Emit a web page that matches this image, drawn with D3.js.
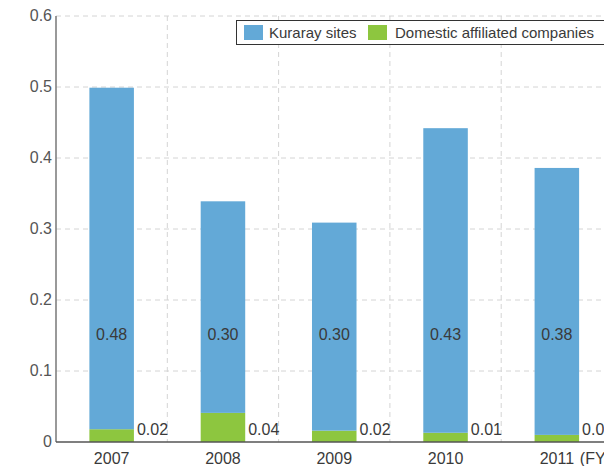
<!DOCTYPE html>
<html>
<head>
<meta charset="utf-8">
<script src="https://cdn.jsdelivr.net/npm/d3@7"></script>
<style>
  body { margin: 0; background: #fff; }
  svg { font-family: "Liberation Sans", Arial, sans-serif; }
</style>
</head>
<body>
<div id="chart"></div>
<script>
var years = ["2007", "2008", "2009", "2010", "2011"];
var kuraray = [0.481, 0.298, 0.293, 0.429, 0.376];
var domestic = [0.018, 0.041, 0.016, 0.013, 0.010];
var kurarayLabels = ["0.48", "0.30", "0.30", "0.43", "0.38"];
var domesticLabels = ["0.02", "0.04", "0.02", "0.01", "0.01"];
var yTicks = [0, 0.1, 0.2, 0.3, 0.4, 0.5, 0.6];

var width = 604, height = 466;
var blue = "#63a9d7", green = "#8dc63f";
var fs = 16;

var svg = d3.select("#chart").append("svg")
  .attr("width", width).attr("height", height);

var x = d3.scaleBand().domain(years).range([56, 612.5]);
var y = d3.scaleLinear().domain([0, 0.6]).range([442, 16]);
var barW = x.bandwidth() * 0.4;

// grid
svg.selectAll(".hgrid").data(yTicks.slice(1)).enter().append("line")
  .attr("x1", 56).attr("x2", width)
  .attr("y1", function(d) { return y(d); }).attr("y2", function(d) { return y(d); })
  .attr("stroke", "#d4d4d4").attr("stroke-dasharray", "5,4");

svg.selectAll(".vgrid").data(years).enter().append("line")
  .attr("x1", function(d) { return x(d) + x.bandwidth(); })
  .attr("x2", function(d) { return x(d) + x.bandwidth(); })
  .attr("y1", 16).attr("y2", 442)
  .attr("stroke", "#d4d4d4").attr("stroke-dasharray", "5,4");

var data = years.map(function(yr, i) {
  return { year: yr, k: kuraray[i], d: domestic[i], kl: kurarayLabels[i], dl: domesticLabels[i] };
});

// bars
svg.selectAll(".green").data(data).enter().append("rect")
  .attr("x", function(d) { return x(d.year) + (x.bandwidth() - barW) / 2; })
  .attr("width", barW)
  .attr("y", function(d) { return y(d.d); })
  .attr("height", function(d) { return y(0) - y(d.d); })
  .attr("fill", green);

svg.selectAll(".blue").data(data).enter().append("rect")
  .attr("x", function(d) { return x(d.year) + (x.bandwidth() - barW) / 2; })
  .attr("width", barW)
  .attr("y", function(d) { return y(d.d + d.k); })
  .attr("height", function(d) { return y(d.d) - y(d.d + d.k); })
  .attr("fill", blue);

// value labels
svg.selectAll(".klabel").data(data).enter().append("text")
  .attr("x", function(d) { return x(d.year) + x.bandwidth() / 2; })
  .attr("y", 340)
  .attr("text-anchor", "middle")
  .attr("font-size", fs).attr("fill", "#3a3a3a")
  .text(function(d) { return d.kl; });

svg.selectAll(".dlabel").data(data).enter().append("text")
  .attr("x", function(d) { return x(d.year) + (x.bandwidth() + barW) / 2 + 3; })
  .attr("y", 435)
  .attr("font-size", fs).attr("fill", "#3a3a3a")
  .text(function(d) { return d.dl; });

// y axis
svg.append("line").attr("x1", 56).attr("x2", 56).attr("y1", 16).attr("y2", 442)
  .attr("stroke", "#777").attr("stroke-width", 1.5);
svg.selectAll(".ytick").data(yTicks).enter().append("text")
  .attr("x", 52).attr("y", function(d) { return y(d) + 5; })
  .attr("text-anchor", "end").attr("font-size", fs).attr("fill", "#555")
  .text(function(d) { return d === 0 ? "0" : d3.format(".1f")(d); });

// x axis
svg.append("line").attr("x1", 56).attr("x2", width).attr("y1", 442).attr("y2", 442)
  .attr("stroke", "#555").attr("stroke-width", 1.5);
svg.selectAll(".xtick").data(years).enter().append("text")
  .attr("x", function(d) { return x(d) + x.bandwidth() / 2; })
  .attr("y", 464).attr("text-anchor", "middle")
  .attr("font-size", fs).attr("fill", "#3a3a3a")
  .text(function(d) { return d; });
svg.append("text")
  .attr("x", x("2011") + x.bandwidth() / 2 + 23).attr("y", 464)
  .attr("font-size", fs).attr("fill", "#3a3a3a")
  .text("(FY)");

// legend
var lg = svg.append("g");
lg.append("rect").attr("x", 236.5).attr("y", 20.5).attr("width", 380).attr("height", 24)
  .attr("fill", "#fff").attr("stroke", "#333");
lg.append("rect").attr("x", 244).attr("y", 25).attr("width", 19).attr("height", 15).attr("fill", blue);
lg.append("text").attr("x", 269).attr("y", 38).attr("font-size", 15).attr("fill", "#3a3a3a").text("Kuraray sites");
lg.append("rect").attr("x", 368).attr("y", 25).attr("width", 19).attr("height", 15).attr("fill", green);
lg.append("text").attr("x", 395).attr("y", 38).attr("font-size", 15).attr("fill", "#3a3a3a").text("Domestic affiliated companies");
</script>
</body>
</html>
